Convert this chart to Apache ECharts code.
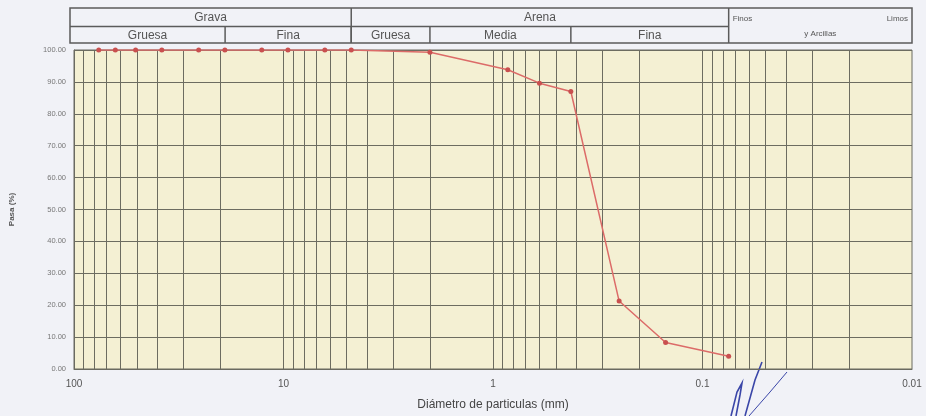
<!DOCTYPE html>
<html>
<head>
<meta charset="utf-8">
<script src="https://cdn.jsdelivr.net/npm/echarts@6/dist/echarts.min.js"></script>
<style>
html,body{margin:0;padding:0;background:#f1f2f7;}
#chart{width:926px;height:416px;}
</style>
</head>
<body>
<div id="chart"></div>
<script>
// Data: sieve sizes (mm) and percent passing
const diametros = [76.2, 63.5, 50.8, 38.1, 25.4, 19.05, 12.7, 9.525, 6.35, 4.75, 2.0, 0.85, 0.6, 0.425, 0.25, 0.15, 0.075];
const pasa      = [100, 100, 100, 100, 100, 100, 100, 100, 100, 100, 99.3, 93.8, 89.6, 87.0, 21.3, 8.3, 4.0];

// Log grid lines (mm)
const gridSizes = [
  90, 80, 70, 60, 50, 40, 30, 20, 10,
  9, 8, 7, 6, 5, 4, 3, 2, 1,
  0.9, 0.8, 0.7, 0.6, 0.5, 0.4, 0.3, 0.2, 0.1,
  0.09, 0.08, 0.07, 0.06, 0.05, 0.04, 0.03, 0.02
];

// Classification header (mm bounds)
const headerTop = [
  { name: 'Grava', from: 100, to: 4.75 },
  { name: 'Arena', from: 4.75, to: 0.075 }
];
const headerBottom = [
  { name: 'Gruesa', from: 100, to: 19 },
  { name: 'Fina', from: 19, to: 4.75 },
  { name: 'Gruesa', from: 4.75, to: 2 },
  { name: 'Media', from: 2, to: 0.425 },
  { name: 'Fina', from: 0.425, to: 0.075 }
];
const finosCell = { from: 0.075, to: 0.01, left: 'Finos', right: 'Limos', bottom: 'y Arcillas' };

const chart = echarts.init(document.getElementById('chart'));
const gridColor = '#6c6c60';

chart.setOption({
  backgroundColor: '#f1f2f7',
  animation: false,
  grid: {
    left: 73, right: 14, top: 50, bottom: 44,
    show: true, backgroundColor: '#f4f0d3', borderColor: '#6a6a60', borderWidth: 1
  },
  xAxis: {
    type: 'log', logBase: 10, min: 0.01, max: 100, inverse: true,
    name: 'Diámetro de particulas (mm)', nameLocation: 'middle', nameGap: 30,
    nameTextStyle: { fontSize: 12, color: '#454545', fontFamily: 'Liberation Sans' },
    axisLine: { lineStyle: { color: '#6a6a60' } },
    axisTick: { show: false },
    splitLine: { show: false },
    axisLabel: {
      fontSize: 10, color: '#555', margin: 10, fontFamily: 'Liberation Sans',
      formatter: v => v >= 1 ? String(Math.round(v)) : String(+v.toPrecision(1))
    }
  },
  yAxis: {
    type: 'value', min: 0, max: 100, interval: 10,
    name: 'Pasa (%)', nameLocation: 'middle', nameGap: 58,
    nameTextStyle: { fontSize: 8, fontWeight: 'bold', color: '#555', fontFamily: 'Liberation Sans' },
    axisLine: { show: true, lineStyle: { color: '#6a6a60' } },
    axisTick: { show: false },
    axisLabel: { fontSize: 7.5, color: '#777', margin: 8, fontFamily: 'Liberation Sans', formatter: v => v.toFixed(2) },
    splitLine: { show: true, lineStyle: { color: gridColor, width: 1 } }
  },
  series: [{
    type: 'line',
    data: diametros.map((d, i) => [d, pasa[i]]),
    symbol: 'circle', symbolSize: 5,
    lineStyle: { color: '#dc6b68', width: 1.5 },
    itemStyle: { color: '#c9504f' },
    z: 5,
    markLine: {
      silent: true, symbol: 'none', animation: false,
      label: { show: false },
      lineStyle: { color: gridColor, width: 1, type: 'solid' },
      data: gridSizes.map(v => ({ xAxis: v }))
    }
  }]
});

// Header table drawn from the x scale
const px = v => chart.convertToPixel({ xAxisIndex: 0 }, v);
const yTop = 8, yMid = 26.5, yBot = 43;
const lineCol = '#5b5b5b', textCol = '#555';
const gfx = [];
const left = px(100) - 4, right = px(0.01);
const ls = { stroke: lineCol, lineWidth: 1.5 };
gfx.push({ type: 'rect', shape: { x: left, y: yTop, width: right - left, height: yBot - yTop }, style: { fill: 'rgba(0,0,0,0)', stroke: lineCol, lineWidth: 1.5 } });
gfx.push({ type: 'line', shape: { x1: left, y1: yMid, x2: px(finosCell.from), y2: yMid }, style: ls });
headerTop.forEach((c, i) => {
  const x1 = i === 0 ? left : px(c.from), x2 = px(c.to);
  if (i > 0) gfx.push({ type: 'line', shape: { x1: x1, y1: yTop, x2: x1, y2: yBot }, style: ls });
  gfx.push({ type: 'text', x: (x1 + x2) / 2, y: (yTop + yMid) / 2, style: { text: c.name, fill: textCol, fontSize: 12, fontFamily: 'Liberation Sans', align: 'center', verticalAlign: 'middle' } });
});
headerBottom.forEach((c, i) => {
  const x1 = i === 0 ? left : px(c.from), x2 = px(c.to);
  if (i > 0) gfx.push({ type: 'line', shape: { x1: x1, y1: yMid, x2: x1, y2: yBot }, style: ls });
  gfx.push({ type: 'text', x: (x1 + x2) / 2, y: (yMid + yBot) / 2 + 0.5, style: { text: c.name, fill: textCol, fontSize: 12, fontFamily: 'Liberation Sans', align: 'center', verticalAlign: 'middle' } });
});
const fx1 = px(finosCell.from), fx2 = px(finosCell.to);
gfx.push({ type: 'line', shape: { x1: fx1, y1: yTop, x2: fx1, y2: yBot }, style: ls });
gfx.push({ type: 'text', x: fx1 + 4, y: 19, style: { text: finosCell.left, fill: textCol, fontSize: 8, fontFamily: 'Liberation Sans', align: 'left', verticalAlign: 'middle' } });
gfx.push({ type: 'text', x: fx2 - 4, y: 19, style: { text: finosCell.right, fill: textCol, fontSize: 8, fontFamily: 'Liberation Sans', align: 'right', verticalAlign: 'middle' } });
gfx.push({ type: 'text', x: (fx1 + fx2) / 2, y: 34, style: { text: finosCell.bottom, fill: textCol, fontSize: 8, fontFamily: 'Liberation Sans', align: 'center', verticalAlign: 'middle' } });

// pen signature scribble
const sig = { stroke: '#3a46a8', lineWidth: 1.6, fill: null };
gfx.push({ type: 'polyline', shape: { points: [[731, 416], [737, 392], [742, 383], [740, 395], [736, 416]] }, style: sig });
gfx.push({ type: 'polyline', shape: { points: [[745, 416], [755, 380], [762, 362]] }, style: sig });
gfx.push({ type: 'polyline', shape: { points: [[749, 416], [770, 392], [787, 372]] }, style: { stroke: '#3a46a8', lineWidth: 1, fill: null } });

chart.setOption({ graphic: gfx });
</script>
</body>
</html>
